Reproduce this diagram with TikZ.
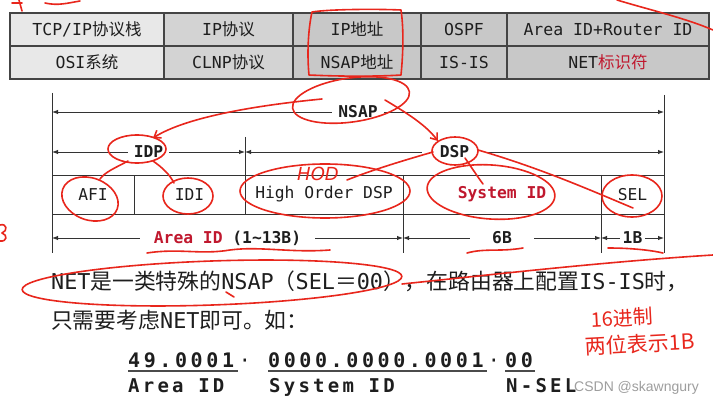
\documentclass[tikz,border=0pt]{standalone}
\usepackage{fontspec}
\setmainfont{DejaVu Sans Mono}
\newfontfamily\cjk{Noto Sans CJK SC}
\newfontfamily\exfont[LetterSpace=18]{DejaVu Sans Mono}
\newfontfamily\exlabfont[LetterSpace=17]{DejaVu Sans Mono}
\newfontfamily\wmfont{Liberation Sans}
\newfontfamily\handfont{DejaVu Sans}
\usetikzlibrary{arrows.meta}
\definecolor{ink}{HTML}{1E1E1E}
\definecolor{tblc}{HTML}{444444}
\definecolor{dimc}{HTML}{333333}
\definecolor{dred}{HTML}{C0182E}
\definecolor{hwred}{HTML}{E8261C}
\definecolor{cA}{HTML}{E8E8E8}
\definecolor{cB}{HTML}{D3D3D3}
\definecolor{cC}{HTML}{C8C8C8}
\begin{document}
\begin{tikzpicture}[x=1pt,y=-1pt,
  tcell/.style={draw=tblc, line width=1.1pt, inner sep=0pt, minimum height=33pt, font=\fontsize{16.5}{19}\selectfont, text=ink},
  cell/.style={draw=dimc, line width=0.9pt, inner sep=0pt, minimum height=39pt, font=\fontsize{16.3}{19}\selectfont, text=ink},
  dimarrow/.style={draw=dimc, line width=0.9pt, {Latex[length=6pt,width=4.5pt]}-{Latex[length=6pt,width=4.5pt]}},
  dlab/.style={fill=white, font=\fontsize{16.3}{19}\selectfont\bfseries, text=ink, inner xsep=6pt, inner ysep=1pt},
  rulel/.style={draw=dimc, line width=0.9pt},
  uline/.style={draw=ink!80, line width=1.2pt},
  hw/.style={draw=hwred, line width=1.6pt, line cap=round, line join=round},
  hwtip/.style={hw, -{Straight Barb[length=6pt,width=9pt]}},
]
\useasboundingbox (0,0) rectangle (713,401);
\fill[white] (0,0) rectangle (713,401);

% ---------- table ----------
\node[tcell, fill=cA, minimum width=154pt] (t11) at (87,29.5) {TCP/IP{\cjk 协议栈}};
\node[tcell, fill=cB, minimum width=129pt] (t12) at (228.5,29.5) {IP{\cjk 协议}};
\node[tcell, fill=cC, minimum width=128pt] (t13) at (357,29.5) {IP{\cjk 地址}};
\node[tcell, fill=cC, minimum width=86pt] (t14) at (464,29.5) {OSPF};
\node[tcell, fill=cC, minimum width=202pt] (t15) at (608,29.5) {Area ID+Router ID};
\node[tcell, fill=cA, minimum width=154pt] (t21) at (87,62.5) {OSI{\cjk 系统}};
\node[tcell, fill=cB, minimum width=129pt] (t22) at (228.5,62.5) {CLNP{\cjk 协议}};
\node[tcell, fill=cC, minimum width=128pt] (t23) at (357,62.5) {NSAP{\cjk 地址}};
\node[tcell, fill=cC, minimum width=86pt] (t24) at (464,62.5) {IS-IS};
\node[tcell, fill=cC, minimum width=202pt] (t25) at (608,62.5) {NET{\cjk\color{dred}标识符}};

% ---------- NSAP structure ----------
\coordinate (l0) at (52,93);   \coordinate (l1) at (52,253);
\coordinate (r0) at (664,95);  \coordinate (r1) at (664,253);
\coordinate (m0) at (245,137); \coordinate (m1) at (245,214);
\coordinate (a0) at (403,175); \coordinate (a1) at (403,253);
\coordinate (b0) at (601,175); \coordinate (b1) at (601,253);
\draw[rulel] (l0) -- (l1);
\draw[rulel] (r0) -- (r1);
\draw[rulel] (m0) -- (m1);
\draw[rulel] (a0) -- (a1);
\draw[rulel] (b0) -- (b1);

\node[cell, minimum width=82pt] (afi) at (93,194.5) {AFI};
\node[cell, minimum width=111pt] (idi) at (189.5,194.5) {IDI};
\node[cell, minimum width=158pt] (hod) at (324,194.5) {High Order DSP};
\node[cell, minimum width=198pt, text=dred, font=\fontsize{16.3}{19}\selectfont\bfseries] (sid) at (502,194.5) {System ID};
\node[cell, minimum width=63pt] (sel) at (632.5,194.5) {SEL};

\coordinate (nsL) at (52,112);  \coordinate (nsR) at (664,112);
\coordinate (idL) at (52,152);  \coordinate (idR) at (245,152);
\coordinate (dsL) at (245,152); \coordinate (dsR) at (664,152);
\coordinate (arL) at (52,238);  \coordinate (arR) at (403,238);
\coordinate (sbL) at (403,238); \coordinate (sbR) at (601,238);
\coordinate (slL) at (601,238); \coordinate (slR) at (664,238);

\draw[dimarrow] (nsL) -- node[dlab] (nsap) {NSAP} (nsR);
\draw[dimarrow] (idL) -- node[dlab] (idp) {IDP} (idR);
\draw[dimarrow] (dsL) -- node[dlab, inner xsep=18pt] (dsp) {DSP} (dsR);
\draw[dimarrow] (arL) -- node[dlab, inner xsep=14pt] (area) {{\color{dred}Area ID} (1\textasciitilde13B)} (arR);
\draw[dimarrow] (sbL) -- node[dlab, inner xsep=22pt] (six) {6B} (sbR);
\draw[dimarrow] (slL) -- node[dlab, inner xsep=3pt] (one) {1B} (slR);

% ---------- text ----------
\node[anchor=base west, inner sep=0pt, font=\fontsize{21.8}{25}\selectfont, text=ink] (line1) at (51,290)
  {NET{\cjk 是一类特殊的}NSAP{\cjk （}SEL{\cjk ＝}00{\cjk ），在路由器上配置}IS-IS{\cjk 时，}};
\node[anchor=base west, inner sep=0pt, font=\fontsize{21.8}{25}\selectfont, text=ink] (line2) at (51,328)
  {{\cjk 只需要考虑}NET{\cjk 即可。如：}};

\node[anchor=base west, inner sep=0pt, font={\fontsize{20}{24}\exfont\bfseries}, text=ink] (ex1) at (128,367) {49.0001};
\node[anchor=base, inner sep=0pt, font=\fontsize{20}{24}\selectfont, text=ink] (dot1) at (245,367) {·};
\node[anchor=base west, inner sep=0pt, font={\fontsize{20}{24}\exfont\bfseries}, text=ink] (ex2) at (268,367) {0000.0000.0001};
\node[anchor=base, inner sep=0pt, font=\fontsize{20}{24}\selectfont, text=ink] (dot2) at (494,367) {·};
\node[anchor=base west, inner sep=0pt, font={\fontsize{20}{24}\exfont\bfseries}, text=ink] (ex3) at (505,367) {00};
\draw[uline] (128,371) -- (238,371);
\draw[uline] (268,371) -- (487,371);
\draw[uline] (505,371) -- (535,371);
\node[anchor=base west, inner sep=0pt, font={\fontsize{19}{23}\exlabfont\bfseries}, text=ink] (lb1) at (128,392) {Area ID};
\node[anchor=base west, inner sep=0pt, font={\fontsize{19}{23}\exlabfont\bfseries}, text=ink] (lb2) at (269,392) {System ID};
\node[anchor=base west, inner sep=0pt, font={\fontsize{19}{23}\exlabfont\bfseries}, text=ink] (lb3) at (506,392) {N-SEL};
\node[anchor=base west, inner sep=0pt, font={\fontsize{14}{16}\wmfont}, text=black!38] (wm) at (574,391) {CSDN @skawngury};

% ---------- handwritten annotations ----------
\draw[hw] (12,3) -- (22,3) (19,0) -- (22,11) (45,3) .. controls (58,6) and (68,3) .. (80,1);
\draw[hw] (0,225) .. controls (7,223) and (8,231) .. (2,233) .. controls (8,235) and (7,242) .. (0,241);
\draw[hw] (617,0) .. controls (650,10) and (685,18) .. (713,30);
% IP address box
\draw[hw] (312,12) .. controls (330,9) and (380,9) .. (401,10) .. controls (404,30) and (403,55) .. (401,75)
  .. controls (370,77) and (330,76) .. (309,75) .. controls (307,55) and (308,30) .. (312,12);
% NSAP ellipse and arrows
\draw[hw, rotate around={8:(351,100)}] (351,100) ellipse [x radius=59, y radius=22];
\draw[hwtip] (322,99) .. controls (250,106) and (185,118) .. (153,138);
\draw[hwtip] (385,100) .. controls (405,112) and (425,124) .. (438,141);
% IDP branch
\draw[hw] (137,149) ellipse [x radius=29, y radius=14];
\draw[hw] (128,161) .. controls (115,168) and (105,172) .. (100,179);
\draw[hw] (153,161) .. controls (163,168) and (170,175) .. (174,183);
\draw[hw, rotate around={-20:(90,199)}] (90,199) ellipse [x radius=29, y radius=21];
\draw[hw] (188,196) ellipse [x radius=25, y radius=18];
% DSP branch
\draw[hw] (455,151) ellipse [x radius=23, y radius=14];
\draw[hw] (433,152) .. controls (405,160) and (372,170) .. (347,180);
\draw[hw] (465,158) .. controls (472,168) and (477,176) .. (483,184);
\draw[hw] (478,150) .. controls (540,168) and (590,190) .. (633,208);
\draw[hw] (325,191) ellipse [x radius=85, y radius=27];
\node[text=hwred, font=\fontsize{18}{20}\handfont\itshape, inner sep=0pt] (hodtxt) at (318,174) {HOD};
\draw[hw, rotate around={-4:(491,192)}] (491,192) ellipse [x radius=64, y radius=27];
\draw[hw] (632,196) ellipse [x radius=30, y radius=21];
% underlines of sizes
\draw[hw] (147,253) .. controls (180,248) and (200,255) .. (230,250) .. controls (260,246) and (290,253) .. (330,250);
\draw[hw] (467,253) .. controls (485,248) and (500,252) .. (523,248);
\draw[hw] (608,248) .. controls (630,248) and (650,250) .. (663,253);
% NET sentence
\draw[hw, rotate around={2:(212,283)}] (212,283) ellipse [x radius=190, y radius=22];
\draw[hw] (226,292) -- (234,297);
\draw[hw] (402,284) .. controls (480,276) and (600,262) .. (713,255);
\node[text=hwred, font=\fontsize{20}{22}\cjk, inner sep=0pt, rotate=3] (hex1) at (622,318) {16进制};
\node[text=hwred, font=\fontsize{21}{24}\cjk, inner sep=0pt, rotate=3] (hex2) at (640,344) {两位表示1B};
\end{tikzpicture}
\end{document}
